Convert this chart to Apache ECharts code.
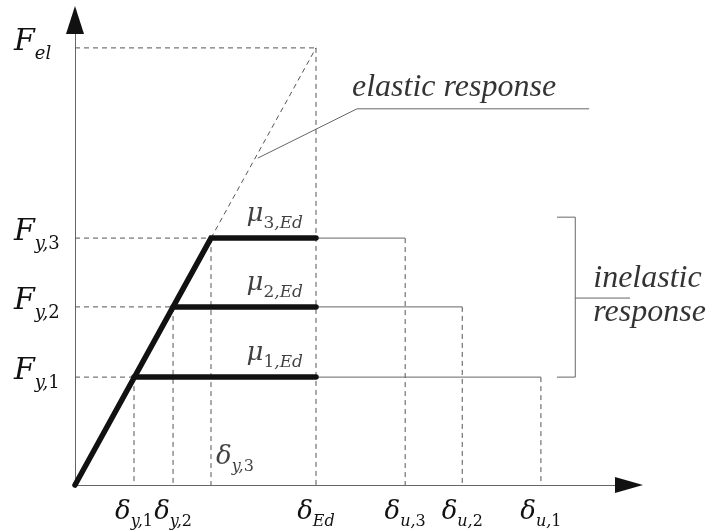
<!DOCTYPE html>
<html>
<head>
<meta charset="utf-8">
<script src="https://cdn.jsdelivr.net/npm/echarts@6/dist/echarts.min.js"></script>
<style>
html,body{margin:0;padding:0;background:#fff;}
#chart{width:724px;height:532px;}
</style>
</head>
<body>
<div id="chart"></div>
<script>
// ---- data (arbitrary schematic units) ----
const deltaYield = [1.065, 1.77, 2.455];     // δy,1 δy,2 δy,3
const forceYield = [2.32, 3.83, 5.31];       // Fy,1 Fy,2 Fy,3
const deltaUlt = [8.41, 6.99, 5.96];         // δu,1 δu,2 δu,3
const deltaEd = 4.35;                        // δEd
const forceEl = 9.40;                        // Fel
const forceTickValues = [forceYield[0], forceYield[1], forceYield[2], forceEl];
const forceTickLabels = ['F_y,1', 'F_y,2', 'F_y,3', 'F_el'];
const deltaTickValues = [deltaYield[0], deltaYield[1], deltaEd, deltaUlt[2], deltaUlt[1], deltaUlt[0]];
const deltaTickLabels = ['δ_y,1', 'δ_y,2', 'δ_Ed', 'δ_u,3', 'δ_u,2', 'δ_u,1'];
const innerDeltaLabel = 'δ_y,3';
const ductilityLabels = ['μ_1,Ed', 'μ_2,Ed', 'μ_3,Ed'];
const elasticLeader = [[3.30, 7.03], [5.09, 8.09], [9.28, 8.09]];
const inelasticBracket = [[8.70, 5.76], [9.03, 5.76], [9.03, 2.32], [8.70, 2.32]];
const inelasticLeader = [[9.03, 4.02], [11.66, 4.02]];
const annotationTexts = ['elastic response', 'inelastic', 'response'];

// ---- styling helpers ----
const MATH = 'DejaVu Serif';
const TEXT = 'Liberation Serif';
const INK = '#111';

function richFor(mainSize, subSize, lift) {
  return {
    m: {fontFamily: MATH, fontStyle: 'italic', fontSize: mainSize, lineHeight: mainSize, padding: [0, 0, lift, 0], verticalAlign: 'bottom', color: INK},
    s: {fontFamily: MATH, fontStyle: 'italic', fontSize: subSize, lineHeight: subSize, verticalAlign: 'bottom', color: INK},
    n: {fontFamily: MATH, fontStyle: 'normal', fontSize: subSize, lineHeight: subSize, verticalAlign: 'bottom', color: INK}
  };
}
function toRich(str) {
  const [main, sub] = str.split('_');
  let out = '{m|' + main + '}';
  if (sub) {
    let cur = null, buf = '';
    for (const ch of sub) {
      const st = /[0-9]/.test(ch) ? 'n' : 's';
      if (st !== cur && buf) { out += '{' + cur + '|' + buf + '}'; buf = ''; }
      cur = st; buf += ch;
    }
    if (buf) out += '{' + cur + '|' + buf + '}';
  }
  return out;
}

const dashed = {color: '#555', width: 1, type: [5, 4]};
const thin = {color: '#666', width: 1};
const bold = {color: INK, width: 5.5, cap: 'round', join: 'miter'};

function seg(points, style, z) {
  return {type: 'line', data: points, symbol: 'none', showSymbol: false, silent: true,
    clip: false, animation: false, lineStyle: style, z: z};
}

const series = [];
// dashed construction lines
for (let i = 0; i < 3; i++) {
  series.push(seg([[0, forceYield[i]], [deltaYield[i], forceYield[i]]], dashed, 2));
  series.push(seg([[deltaYield[i], forceYield[i]], [deltaYield[i], 0]], dashed, 2));
  series.push(seg([[deltaUlt[i], forceYield[i]], [deltaUlt[i], 0]], dashed, 2));
}
series.push(seg([[0, forceEl], [deltaEd, forceEl]], dashed, 2));
series.push(seg([[deltaEd, forceEl], [deltaEd, 0]], dashed, 2));
series.push(seg([[deltaYield[2], forceYield[2]], [deltaEd, forceEl]], dashed, 2));
// thin continuation lines
for (let i = 0; i < 3; i++) {
  series.push(seg([[deltaEd, forceYield[i]], [deltaUlt[i], forceYield[i]]], thin, 3));
}
// leaders and bracket
series.push(seg(elasticLeader, thin, 3));
series.push(seg(inelasticBracket, thin, 3));
series.push(seg(inelasticLeader, thin, 3));
// bold response curves
series.push(seg([[0, 0], [deltaYield[2], forceYield[2]], [deltaEd, forceYield[2]]], bold, 5));
series.push(seg([[deltaYield[0], forceYield[0]], [deltaEd, forceYield[0]]], bold, 5));
series.push(seg([[deltaYield[1], forceYield[1]], [deltaEd, forceYield[1]]], bold, 5));

// labels
const labelData = [];
for (let i = 0; i < 3; i++) {
  labelData.push({value: [deltaEd, forceYield[i]], label: {show: true, formatter: () => toRich(ductilityLabels[i]),
    rich: richFor(26, 17, 5), position: [-13, -6], align: 'right', verticalAlign: 'bottom'}});
}
labelData.push({value: [deltaYield[2], 0], label: {show: true, formatter: () => toRich(innerDeltaLabel),
  rich: richFor(26, 16, 5), position: [5, -10], align: 'left', verticalAlign: 'bottom'}});
const textStyle = {fontFamily: TEXT, fontStyle: 'italic', fontSize: 32, color: '#000'};
labelData.push({value: elasticLeader[1], label: Object.assign({show: true, formatter: annotationTexts[0],
  position: [-5, -21], align: 'left', verticalAlign: 'middle'}, textStyle)});
labelData.push({value: inelasticLeader[0], label: Object.assign({show: true, formatter: annotationTexts[1],
  position: [18, -19], align: 'left', verticalAlign: 'middle'}, textStyle)});
labelData.push({value: inelasticLeader[0], label: Object.assign({show: true, formatter: annotationTexts[2],
  position: [18, 15], align: 'left', verticalAlign: 'middle'}, textStyle)});
series.push({type: 'scatter', symbolSize: 0, silent: true, animation: false, z: 6, data: labelData});

const hidden = {axisLabel: {show: false}, axisTick: {show: false}, splitLine: {show: false}};

const option = {
  backgroundColor: '#fff',
  animation: false,
  grid: {left: 75, right: 95, top: 20, bottom: 47, containLabel: false},
  xAxis: [
    {type: 'value', min: 0, max: 10, position: 'bottom',
      axisLine: {show: true, onZero: false, lineStyle: {color: '#666', width: 1}},
      axisTick: {show: false}, splitLine: {show: false},
      axisLabel: {show: true, customValues: deltaTickValues, margin: 19,
        formatter: v => toRich(deltaTickLabels[deltaTickValues.indexOf(v)]),
        rich: richFor(26, 16, 5)}},
    Object.assign({type: 'value', min: 0, max: 1, position: 'bottom',
      axisLine: {show: true, onZero: false, symbol: ['none', 'triangle'], symbolSize: [16, 28],
        lineStyle: {color: '#111', opacity: 0}}}, hidden)
  ],
  yAxis: [
    {type: 'value', min: 0, max: 10, position: 'left',
      axisLine: {show: true, onZero: false, lineStyle: {color: '#666', width: 1}},
      axisTick: {show: false}, splitLine: {show: false},
      axisLabel: {show: true, customValues: forceTickValues, margin: 61, align: 'left',
        formatter: v => toRich(forceTickLabels[forceTickValues.indexOf(v)]),
        rich: richFor(30, 18, 6)}},
    Object.assign({type: 'value', min: 0, max: 1, position: 'left',
      axisLine: {show: true, onZero: false, symbol: ['none', 'triangle'], symbolSize: [18, 28],
        lineStyle: {color: '#111', opacity: 0}}}, hidden)
  ],
  series: series
};

const chart = echarts.init(document.getElementById('chart'), null, {renderer: 'canvas'});
chart.setOption(option);
</script>
</body>
</html>
